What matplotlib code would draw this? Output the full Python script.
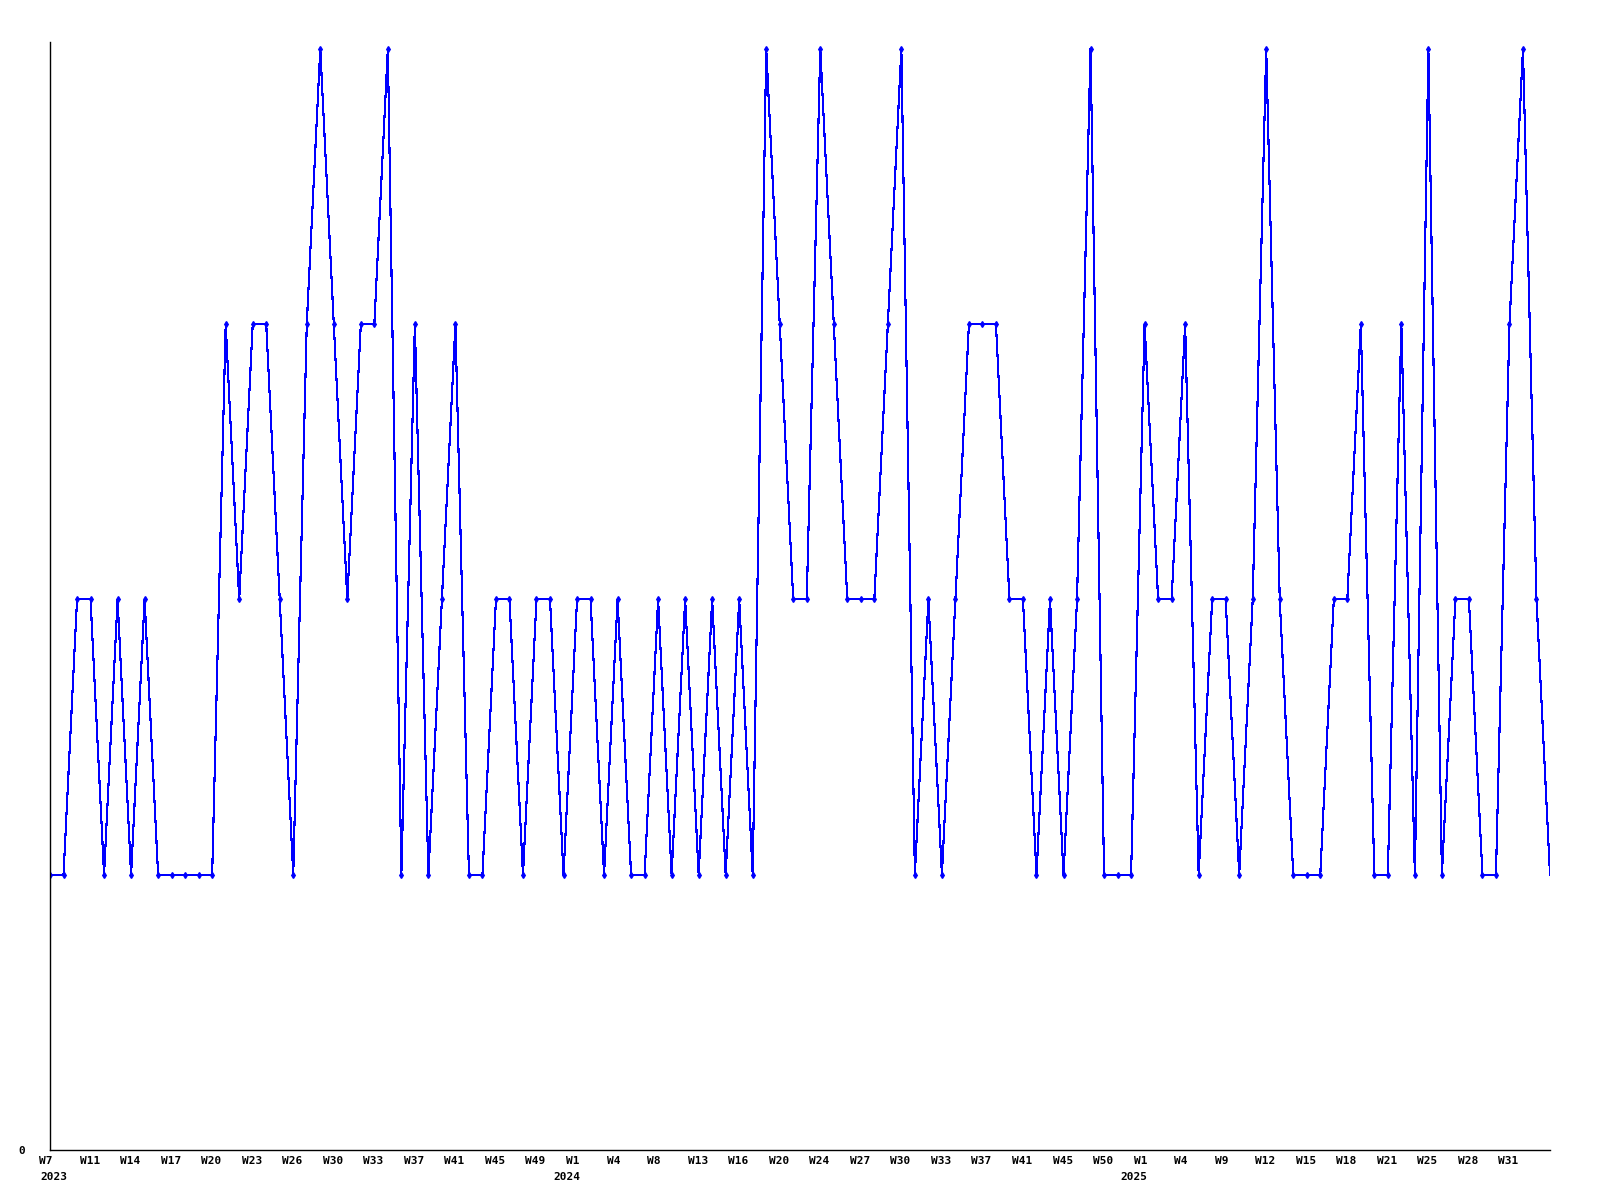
import matplotlib
matplotlib.use("Agg")
import matplotlib.pyplot as plt
import matplotlib.transforms as mtransforms
import numpy as np

# values per sample (levels 1..4)
values = [
    1, 1, 2, 2, 1, 2, 1, 2, 1, 1, 1, 1, 1, 3, 2, 3, 3, 2, 1, 3,
    4, 3, 2, 3, 3, 4, 1, 3, 1, 2, 3, 1, 1, 2, 2, 1, 2, 2, 1, 2,
    2, 1, 2, 1, 1, 2, 1, 2, 1, 2, 1, 2, 1, 4, 3, 2, 2, 4, 3, 2,
    2, 2, 3, 4, 1, 2, 1, 2, 3, 3, 3, 2, 2, 1, 2, 1, 2, 4, 1, 1,
    1, 3, 2, 2, 3, 1, 2, 2, 1, 2, 4, 2, 1, 1, 1, 2, 2, 3, 1, 1,
    3, 1, 4, 1, 2, 2, 1, 1, 3, 4, 2, 1,
]

# one label every third sample
week_labels = [
    "W7", "W11", "W14", "W17", "W20", "W23", "W26", "W30", "W33", "W37", "W41", "W45", "W49",
    "W1", "W4", "W8", "W13", "W16", "W20", "W24", "W27", "W30", "W33", "W37", "W41", "W45", "W50",
    "W1", "W4", "W9", "W12", "W15", "W18", "W21", "W25", "W28", "W31",
]
years = ["2023", "2024", "2025"]
year_label_index = [0, 13, 27]  # which week label each year sits under

x = np.arange(len(values))
tick_pos = x[::3][:len(week_labels)]

fig = plt.figure(figsize=(16, 12), dpi=100)
ax = fig.add_axes([50 / 1600, 50 / 1200, 1500 / 1600, 1108 / 1200])

ax.plot(x, values, color="#0000ff", linewidth=0.8, marker="d", markersize=3,
        markevery=slice(0, len(values) - 1), antialiased=False)

for side in ("top", "right"):
    ax.spines[side].set_visible(False)
ax.spines["left"].set_linewidth(1.0)
ax.spines["bottom"].set_linewidth(1.0)

font = dict(family="DejaVu Sans Mono", fontweight="bold", fontsize=8)

ax.set_yticks([0])
ax.set_yticklabels(["0"], **font)
ax.tick_params(axis="y", length=0, pad=18)

ax.set_xticks(tick_pos)
ax.set_xticklabels(week_labels, ha="left", **font)
ax.tick_params(axis="x", length=0, pad=4)
shift = mtransforms.ScaledTranslation(-11 / 100, 0, fig.dpi_scale_trans)
for lab in ax.get_xticklabels():
    lab.set_transform(lab.get_transform() + shift)

ax.set_xlim(0, len(values) - 1)
ax.set_ylim(0, 4.025)

trans = mtransforms.blended_transform_factory(ax.transData, fig.transFigure)
for yr, idx in zip(years, year_label_index):
    dx = -10 if idx == 0 else -24
    t = trans + mtransforms.ScaledTranslation(dx / 100, 0, fig.dpi_scale_trans)
    ax.text(tick_pos[idx], 1 - 1177 / 1200, yr, transform=t, ha="left", va="center",
            clip_on=False, **font)

fig.savefig("out.png", dpi=100)
